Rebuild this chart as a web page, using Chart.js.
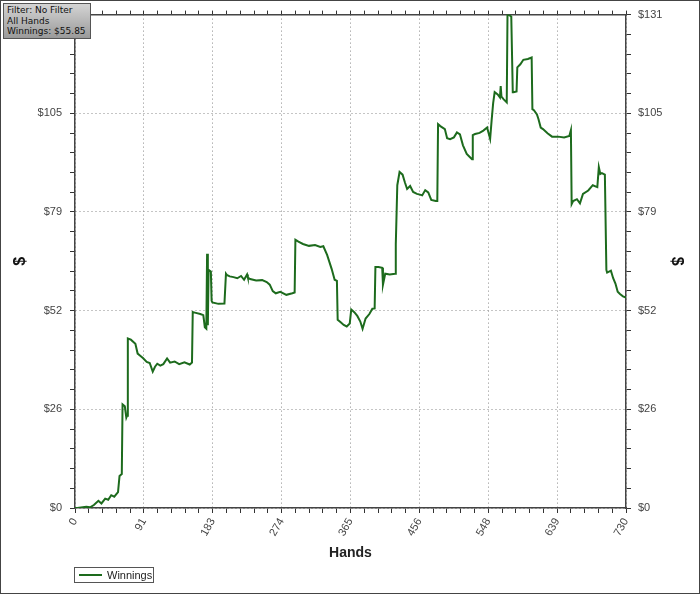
<!DOCTYPE html>
<html>
<head>
<meta charset="utf-8">
<script src="https://cdn.jsdelivr.net/npm/chart.js@4.4.1/dist/chart.umd.min.js"></script>
<style>
  body { margin: 0; background: #fff; }
  #wrap { position: relative; width: 700px; height: 594px; }
  #frame { position: absolute; left: 0; top: 0; width: 698px; height: 592px; border: 1px solid #444; pointer-events: none; }
  #info {
    position: absolute; left: 3px; top: 3px; width: 83px; height: 33px;
    border: 1px solid #555; background: linear-gradient(#d4d4d4, #9a9a9a);
    font: 9px "DejaVu Sans", sans-serif; color: #111; line-height: 10.5px; padding: 1px 0 0 3px;
  }
  #legend {
    position: absolute; left: 74px; top: 567px; width: 78px; height: 14px;
    border: 1px solid #555; font: 11px "Liberation Sans", Arial, sans-serif; color: #222;
  }
  #legend .ln { position: absolute; left: 4px; top: 6px; width: 23px; height: 2px; background: #1d6b1d; }
  #legend .tx { position: absolute; left: 32px; top: 0px; line-height: 14px; }
</style>
</head>
<body>
<div id="wrap">
  <canvas id="chart" width="700" height="594"></canvas>
  <div id="info">Filter: No Filter<br>All Hands<br>Winnings: $55.85</div>
  <div id="legend"><div class="ln"></div><div class="tx">Winnings</div></div>
  <div id="frame"></div>
</div>
<script>
const hands = [0, 3, 15, 20, 25, 31, 35, 40, 44, 48, 52, 57, 59, 62, 63, 66, 68, 69, 70, 74,
  80, 83, 86, 90, 95, 99, 103, 106, 109, 113, 117, 122, 126, 132, 138, 145, 152, 155, 156, 160,
  166, 170, 172, 174, 175, 176, 177, 180, 181, 182, 190, 198, 200, 201, 205, 210, 215, 220, 224, 228,
  229, 232, 240, 248, 254, 258, 262, 266, 272, 280, 288, 291, 292, 296, 302, 310, 318, 325, 329, 334,
  340, 344, 347, 348, 352, 356, 360, 364, 366, 370, 374, 378, 381, 385, 390, 394, 397, 398, 402, 407,
  408, 411, 417, 424, 425, 427, 430, 434, 437, 440, 444, 448, 453, 457, 460, 464, 468, 472, 478, 480,
  481, 484, 490, 493, 497, 502, 506, 510, 514, 519, 523, 526, 527, 530, 536, 541, 546, 550, 552, 554,
  556, 560, 563, 564, 565, 568, 572, 573, 574, 578, 580, 581, 585, 586, 590, 594, 600, 605, 606, 608,
  612, 614, 617, 620, 626, 632, 640, 648, 655, 657, 658, 660, 665, 669, 673, 680, 686, 692, 694, 696,
  698, 702, 704, 705, 710, 713, 716, 719, 722, 726, 730];
const winnings = [0, 0, 0.3, 0.2, 0.8, 1.9, 1.2, 2.5, 2.2, 3.4, 3.0, 4.2, 8.5, 9, 27.5, 27, 24, 24.5, 45, 44.7,
  43.6, 41, 40.5, 39.8, 38.8, 38.5, 36.2, 37.5, 38.3, 37.8, 38.2, 39.7, 38.6, 38.9, 38.2, 38.7, 38.1, 38.6, 52.0, 51.8,
  51.5, 51.2, 48.0, 47.6, 67.5, 48.5, 63.2, 62.8, 55, 54.6, 54.2, 54.3, 62.2, 61.9, 61.5, 61.3, 61.0, 61.6, 60.6, 62.0,
  61.2, 60.8, 60.4, 60.5, 60.0, 59.3, 57.6, 57.0, 57.4, 56.6, 57.0, 57.2, 71.2, 70.7, 70.1, 69.6, 69.8, 69.3, 69.5, 67.2,
  63.5, 60.6, 60.3, 50.0, 49.3, 48.6, 48.2, 49.0, 52.7, 52.0, 51.0, 49.5, 47.6, 50.3, 51.5, 52.9, 53.0, 64.0, 64.0, 63.8,
  59.3, 62.2, 62.0, 62.2, 70, 85.7, 89.2, 88.5, 86.5, 84.7, 85.5, 83.9, 83.4, 83.2, 83.0, 84.4, 83.8, 81.8, 81.5, 81.5,
  101.9, 101.4, 100.6, 98.2, 97.9, 98.4, 99.7, 99.2, 96.3, 94.0, 93.2, 92.6, 99.0, 99.3, 99.6, 100.2, 101.0, 98.0, 103.0, 107.5,
  110.4, 109.8, 109.0, 112.0, 109.2, 108.5, 107.7, 131, 131, 130.5, 110.4, 110.4, 110.6, 117.0, 117.8, 119.0, 119.2, 119.6, 105.9, 105.6,
  104.5, 103.3, 101.0, 100.6, 99.5, 98.6, 98.6, 98.4, 98.8, 100.3, 80.7, 81.5, 82.0, 80.9, 83.4, 84.3, 85.7, 85.2, 90.5, 88.7,
  88.9, 88.5, 63.2, 62.5, 63.0, 61.0, 59.6, 57.4, 56.8, 56.2, 55.85];

const handMax = 730;
const dollarMax = 131;

const tickFont = { family: 'Liberation Sans', size: 11 };
const gridColor = (c) => (c.index % 5 === 0 ? '#8a8a8a' : 'rgba(0,0,0,0)');

function xAxis(position, showLabels) {
  return {
    type: 'linear',
    position: position,
    min: 0,
    max: handMax,
    grid: {
      color: gridColor,
      drawOnChartArea: position === 'bottom',
      tickColor: '#333',
      tickLength: position === 'bottom' ? 5 : 4
    },
    border: { color: '#444', width: 1.5, dash: [1, 3] },
    ticks: {
      display: showLabels,
      stepSize: handMax / 40,
      autoSkip: false,
      minRotation: 60,
      maxRotation: 60,
      padding: 3,
      color: '#444',
      font: tickFont,
      callback: (v, i) => (i % 5 === 0 ? String(Math.round(v)) : '')
    },
    title: {
      display: showLabels,
      text: 'Hands',
      color: '#222',
      font: { family: 'Liberation Sans', size: 14, weight: 'bold' },
      padding: { top: 4, bottom: 32 }
    },
    afterFit: (s) => { s.height = position === 'bottom' ? 86 : 11; }
  };
}

function yAxis(position) {
  return {
    type: 'linear',
    position: position,
    min: 0,
    max: dollarMax,
    grid: {
      color: gridColor,
      drawOnChartArea: position === 'left',
      tickColor: '#333',
      tickLength: 5
    },
    border: { color: '#444', width: 1.5, dash: [1, 3] },
    ticks: {
      stepSize: dollarMax / 25,
      autoSkip: false,
      padding: position === 'left' ? 8 : 7,
      color: '#444',
      font: tickFont,
      callback: (v, i) => (i % 5 === 0 ? '$' + Math.round(v) : '')
    },
    title: {
      display: true,
      text: '$',
      color: '#111',
      font: { family: 'Liberation Sans', size: 16, weight: 'bold' },
      padding: { top: position === 'left' ? 11 : 14, bottom: 0 }
    },
    afterFit: (s) => { s.width = position === 'left' ? 75 : 74; }
  };
}

new Chart(document.getElementById('chart'), {
  type: 'line',
  data: {
    datasets: [{
      label: 'Winnings',
      data: hands.map((h, i) => ({ x: h, y: winnings[i] })),
      borderColor: '#1d6b1d',
      borderWidth: 2,
      pointRadius: 0,
      tension: 0,
      fill: false,
      xAxisID: 'x',
      yAxisID: 'y'
    }]
  },
  options: {
    responsive: false,
    animation: false,
    layout: { padding: 0 },
    scales: {
      x: xAxis('bottom', true),
      x2: xAxis('top', false),
      y: yAxis('left'),
      y2: yAxis('right')
    },
    plugins: {
      legend: { display: false },
      tooltip: { enabled: false }
    }
  }
});
</script>
</body>
</html>
